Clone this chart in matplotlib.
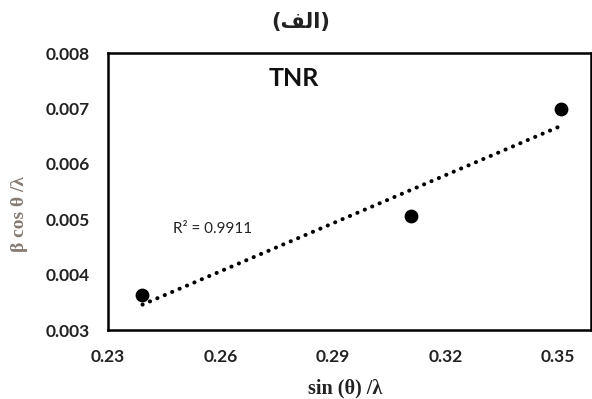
import numpy as np
import matplotlib
matplotlib.use("Agg")
import matplotlib.pyplot as plt

# Data
x_vals = [0.2392, 0.3108, 0.3507]
y_vals = [0.00363, 0.00505, 0.00699]
x_ticks = [0.23, 0.26, 0.29, 0.32, 0.35]
y_ticks = [0.003, 0.004, 0.005, 0.006, 0.007, 0.008]
title_text = "(\uFED2\uFEDF\uFE8D)"
sample_label = "TNR"
r2_text = "R² = 0.9911"

fig = plt.figure(figsize=(5.92, 3.99), dpi=100)
ax = fig.add_axes([0.1824, 0.1729, 0.8159, 0.6942])

ax.scatter(x_vals, y_vals, s=80, color="black", zorder=3)

coef = np.polyfit(x_vals, y_vals, 1)
xs = np.array([min(x_vals), max(x_vals)])
ax.plot(xs, np.polyval(coef, xs), color="black", linewidth=2.9,
        linestyle=(0, (0.05, 1.95)), dash_capstyle="round", zorder=2)

ax.set_xlim(0.2305, 0.3588)
ax.set_ylim(0.003, 0.008)
ax.set_xticks(x_ticks)
ax.set_yticks(y_ticks)
ax.set_xticklabels([f"{t:.2f}" for t in x_ticks])
ax.set_yticklabels([f"{t:.3f}" for t in y_ticks])
ax.tick_params(length=0, labelsize=12.5)
ax.tick_params(axis="y", pad=13)
ax.tick_params(axis="x", pad=14)
for lab in ax.get_xticklabels() + ax.get_yticklabels():
    lab.set_fontfamily("Lato")
    lab.set_fontweight("bold")
    lab.set_color("#222222")

for s in ax.spines.values():
    s.set_linewidth(1.8)
    s.set_color("black")

ax.set_xlabel("sin (θ) /λ", family="Liberation Serif", fontweight="bold",
              fontsize=14.5, color="#222222")
ax.xaxis.set_label_coords(0.49, -0.175)
ax.set_ylabel("β cos θ /λ", family="Liberation Serif", fontweight="bold",
              fontsize=14, color="#867a72")
ax.yaxis.set_label_coords(-0.166, 0.42)

fig.text(0.508, 0.945, title_text, ha="center", va="center",
         family="DejaVu Sans", fontweight="bold", fontsize=15, color="#222222")
ax.text(0.2795, 0.00754, sample_label, ha="center", va="center",
        family="Lato", fontweight="bold", fontsize=18, color="#111111")
ax.text(0.2580, 0.004826, r2_text, ha="center", va="center",
        family="Lato", fontsize=11, color="#222222")

fig.savefig("out.png", dpi=100)
